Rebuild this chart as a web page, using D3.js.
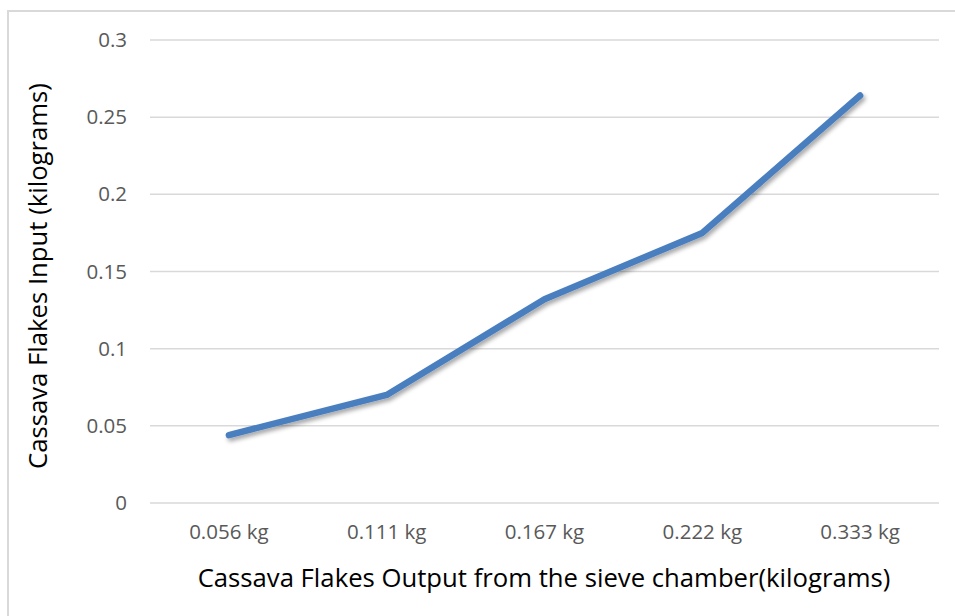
<!DOCTYPE html>
<html>
<head>
<meta charset="utf-8">
<script src="https://cdn.jsdelivr.net/npm/d3@7"></script>
<style>
  html, body { margin: 0; padding: 0; background: #fff; }
  svg { display: block; }
</style>
</head>
<body>
<svg id="chart" width="955" height="616"></svg>
<script>
// Sieve output categories and the matching flake input (kg)
const categories = ["0.056 kg", "0.111 kg", "0.167 kg", "0.222 kg", "0.333 kg"];
const inputValues = [0.044, 0.070, 0.132, 0.175, 0.264];
const yTicks = [0, 0.05, 0.1, 0.15, 0.2, 0.25, 0.3];

const xTitle = "Cassava Flakes Output from the sieve chamber(kilograms)";
const yTitle = "Cassava Flakes Input (kilograms)";

const svg = d3.select("#chart");
const W = 955, H = 616;
const plot = { left: 150, right: 939, top: 40, bottom: 503 };
const fontFamily = "'Open Sans', 'Liberation Sans', sans-serif";

// Outer frame
svg.append("rect")
  .attr("x", 8).attr("y", 11)
  .attr("width", W + 20).attr("height", H + 20)
  .attr("fill", "#fff")
  .attr("stroke", "#d9d9d9").attr("stroke-width", 2);

const x = d3.scaleBand().domain(categories).range([plot.left, plot.right]);
const y = d3.scaleLinear().domain([0, 0.3]).range([plot.bottom, plot.top]);

// Horizontal gridlines
svg.append("g")
  .selectAll("line")
  .data(yTicks)
  .join("line")
  .attr("x1", plot.left).attr("x2", plot.right)
  .attr("y1", d => y(d)).attr("y2", d => y(d))
  .attr("stroke", "#d9d9d9").attr("stroke-width", 1.5);

// Y axis labels
const yAxis = d3.axisLeft(y).tickValues(yTicks).tickSize(0).tickPadding(0)
  .tickFormat(d => String(+d.toFixed(2)));
const gy = svg.append("g").attr("transform", `translate(${plot.left - 23},0)`).call(yAxis);
gy.select(".domain").remove();
gy.selectAll("text")
  .attr("fill", "#595959")
  .style("font-family", fontFamily)
  .style("font-size", "20.5px");

// X axis labels
const xAxis = d3.axisBottom(x).tickSize(0).tickPadding(0);
const gx = svg.append("g").attr("transform", `translate(0,${plot.bottom + 21})`).call(xAxis);
gx.select(".domain").remove();
gx.selectAll("text")
  .attr("fill", "#595959")
  .style("font-family", fontFamily)
  .style("font-size", "20.5px");

// Drop shadow under the series line
const defs = svg.append("defs");
const f = defs.append("filter").attr("id", "lineShadow")
  .attr("x", "-10%").attr("y", "-10%").attr("width", "130%").attr("height", "130%");
f.append("feDropShadow")
  .attr("dx", 2).attr("dy", 3).attr("stdDeviation", 2)
  .attr("flood-color", "#000").attr("flood-opacity", 0.35);

const line = d3.line()
  .x((d, i) => x(categories[i]) + x.bandwidth() / 2)
  .y(d => y(d));

svg.append("path")
  .datum(inputValues)
  .attr("d", line)
  .attr("fill", "none")
  .attr("stroke", "#4a7ebf")
  .attr("stroke-width", 6.5)
  .attr("stroke-linecap", "round")
  .attr("stroke-linejoin", "round")
  .attr("filter", "url(#lineShadow)");

// Axis titles
svg.append("text")
  .attr("x", 544)
  .attr("y", 587)
  .attr("text-anchor", "middle")
  .attr("fill", "#000")
  .style("font-family", fontFamily)
  .style("font-size", "25.7px")
  .text(xTitle);

svg.append("text")
  .attr("transform", `translate(47,276) rotate(-90)`)
  .attr("text-anchor", "middle")
  .attr("fill", "#000")
  .style("font-family", fontFamily)
  .style("font-size", "25.7px")
  .text(yTitle);
</script>
</body>
</html>
